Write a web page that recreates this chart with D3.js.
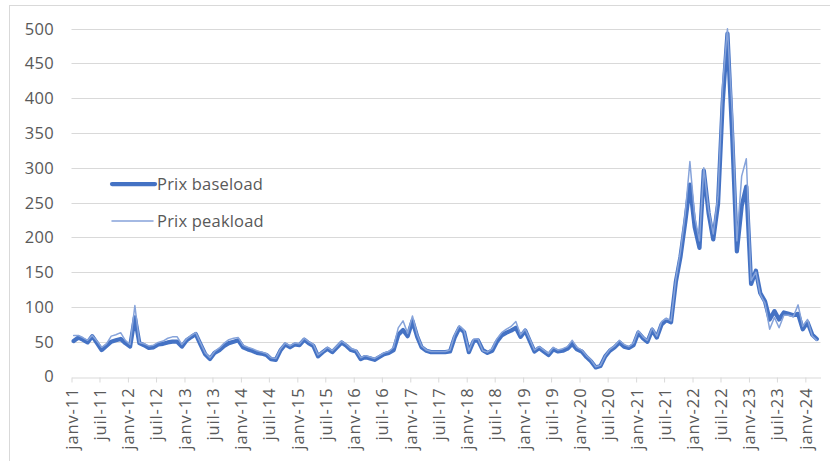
<!DOCTYPE html>
<html lang="fr">
<head>
<meta charset="utf-8">
<script src="https://cdn.jsdelivr.net/npm/d3@7"></script>
<style>
  html, body { margin: 0; padding: 0; background: #fff; }
  svg { display: block; }
  text { font-family: "Open Sans", "Noto Sans", sans-serif; fill: #595959; }
</style>
</head>
<body>
<svg id="chart" width="830" height="461"></svg>
<script>
// Monthly prices (€/MWh), one value per month from January 2011 to March 2024
const firstMonth = { year: 2011, month: 0 };

const baseload = [
  51, 56, 53, 49, 58, 48, 38, 44, 50, 52, 54, 48,      // 2011
  43, 85, 48, 45, 41, 42, 46, 47, 49, 50, 50, 43,      // 2012
  52, 57, 61, 46, 32, 25, 34, 38, 44, 48, 50, 52,      // 2013
  42, 39, 37, 34, 33, 31, 25, 24, 38, 46, 42, 46,      // 2014
  45, 53, 48, 44, 29, 35, 40, 35, 42, 49, 44, 38,      // 2015
  36, 25, 28, 26, 24, 28, 32, 34, 38, 60, 67, 58,      // 2016
  80, 57, 42, 37, 35, 35, 35, 35, 36, 56, 70, 64,      // 2017
  35, 51, 52, 38, 34, 37, 50, 59, 63, 66, 70, 57,      // 2018
  66, 50, 36, 41, 36, 31, 39, 36, 37, 40, 47, 39,      // 2019
  36, 28, 22, 13, 15, 29, 37, 42, 49, 43, 41, 45,      // 2020
  63, 55, 50, 67, 56, 75, 81, 78, 136, 172, 222, 276,  // 2021
  215, 185, 296, 235, 197, 248, 393, 493, 345, 180, 245, 273, // 2022
  133, 152, 120, 108, 82, 94, 82, 92, 90, 88, 90, 68,  // 2023
  78, 60, 54                                           // 2024
];

const peakload = [
  59, 59, 56, 52, 59, 51, 42, 47, 58, 60, 63, 52,      // 2011
  46, 102, 49, 47, 44, 45, 49, 51, 55, 57, 57, 46,     // 2012
  54, 59, 63, 48, 34, 27, 36, 41, 48, 53, 55, 56,      // 2013
  45, 42, 40, 37, 35, 33, 27, 26, 40, 48, 44, 48,      // 2014
  47, 55, 50, 46, 31, 36, 42, 37, 44, 51, 46, 40,      // 2015
  38, 27, 30, 28, 26, 30, 34, 36, 42, 70, 80, 62,      // 2016
  87, 60, 44, 38, 36, 36, 36, 36, 38, 60, 73, 66,      // 2017
  37, 54, 54, 37, 35, 40, 54, 63, 68, 72, 79, 60,      // 2018
  68, 53, 38, 43, 38, 33, 42, 38, 40, 43, 52, 42,      // 2019
  38, 30, 24, 14, 16, 30, 39, 44, 52, 46, 43, 48,      // 2020
  66, 57, 52, 70, 58, 79, 84, 80, 140, 180, 235, 309,  // 2021
  230, 195, 300, 240, 205, 260, 420, 500, 380, 195, 288, 313, // 2022
  138, 150, 118, 105, 68, 85, 70, 88, 88, 86, 103, 72, // 2023
  82, 58, 52                                           // 2024
];

const seriesNames = ["Prix baseload", "Prix peakload"];

const tickLabels = [
  "janv-11", "juil-11", "janv-12", "juil-12", "janv-13", "juil-13",
  "janv-14", "juil-14", "janv-15", "juil-15", "janv-16", "juil-16",
  "janv-17", "juil-17", "janv-18", "juil-18", "janv-19", "juil-19",
  "janv-20", "juil-20", "janv-21", "juil-21", "janv-22", "juil-22",
  "janv-23", "juil-23", "janv-24"
];

const yTicks = [0, 50, 100, 150, 200, 250, 300, 350, 400, 450, 500];

// Each monthly value sits in the middle of its month on the time axis
const dates = baseload.map((_, i) => new Date(firstMonth.year, firstMonth.month + i, 15));
const tickDates = tickLabels.map((_, i) => new Date(firstMonth.year, firstMonth.month + 6 * i, 1));

const svg = d3.select("#chart");

// chart area outline
svg.append("rect")
  .attr("x", 9.5).attr("y", 5.5)
  .attr("width", 840).attr("height", 480)
  .attr("fill", "none").attr("stroke", "#d9d9d9").attr("stroke-width", 1);

const x = d3.scaleTime()
  .domain([new Date(2011, 0, 1), new Date(2024, 3, 8)])
  .range([71.5, 820.5]);

const y = d3.scaleLinear()
  .domain([0, 500])
  .range([376.5, 28.7]);

// horizontal gridlines
svg.append("g")
  .selectAll("line")
  .data(yTicks.filter(v => v > 0))
  .join("line")
  .attr("x1", x.range()[0]).attr("x2", x.range()[1])
  .attr("y1", d => Math.round(y(d)) + 0.5).attr("y2", d => Math.round(y(d)) + 0.5)
  .attr("stroke", "#d9d9d9").attr("stroke-width", 1);

// y axis labels
svg.append("g")
  .selectAll("text")
  .data(yTicks)
  .join("text")
  .attr("x", 54)
  .attr("y", d => y(d))
  .attr("dy", "0.36em")
  .attr("text-anchor", "end")
  .style("font-size", "16.5px")
  .style("letter-spacing", "0.3px")
  .text(d => d);

// x axis with tick marks every six months
const xAxis = d3.axisBottom(x)
  .tickValues(tickDates)
  .tickSize(5)
  .tickSizeOuter(0)
  .tickFormat((d, i) => tickLabels[i]);

const gx = svg.append("g")
  .attr("transform", `translate(0,${Math.round(y(0)) + 0.5})`)
  .call(xAxis);

gx.select(".domain").attr("stroke", "#d9d9d9");
gx.selectAll(".tick line").attr("stroke", "#d9d9d9");
gx.selectAll(".tick text")
  .attr("transform", "rotate(-90)")
  .attr("x", -10)
  .attr("y", 0)
  .attr("dy", "0.36em")
  .attr("text-anchor", "end")
  .style("font-size", "16.5px")
  .style("letter-spacing", "0.9px")
  .style("font-family", "'Open Sans', 'Noto Sans', sans-serif")
  .attr("fill", "#595959");

const line = d3.line()
  .x((d, i) => x(dates[i]))
  .y(d => y(d));

const styles = [
  { color: "#4472c4", width: 4.25 },
  { color: "#86a3da", width: 1.5 }
];

[baseload, peakload].forEach((values, k) => {
  svg.append("path")
    .datum(values)
    .attr("fill", "none")
    .attr("stroke", styles[k].color)
    .attr("stroke-width", styles[k].width)
    .attr("stroke-linejoin", "round")
    .attr("stroke-linecap", "round")
    .attr("d", line);
});

// legend inside the plot area
const legendY = [184, 221];
const legend = svg.append("g");
seriesNames.forEach((name, k) => {
  legend.append("line")
    .attr("x1", 112).attr("x2", k === 0 ? 155 : 153)
    .attr("y1", legendY[k]).attr("y2", legendY[k])
    .attr("stroke", styles[k].color)
    .attr("stroke-width", styles[k].width)
    .attr("stroke-linecap", "round");
  legend.append("text")
    .attr("x", 157)
    .attr("y", legendY[k])
    .attr("dy", "0.36em")
    .style("font-size", "16.5px")
    .style("letter-spacing", "0.2px")
    .text(name);
});
</script>
</body>
</html>
